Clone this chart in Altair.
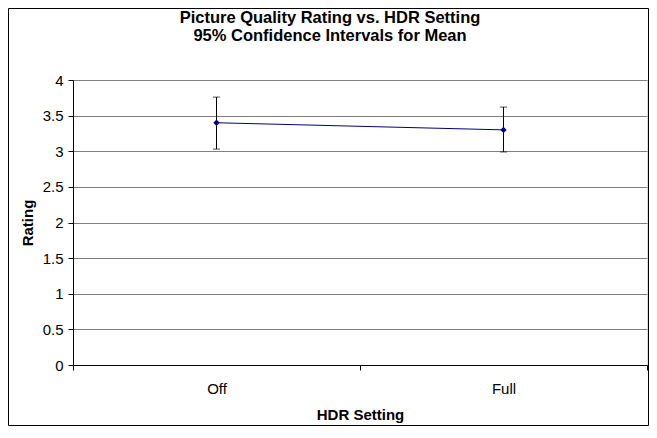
import altair as alt
import pandas as pd

categories = ["Off", "Full"]
means = [3.40, 3.30]
lower = [3.03, 2.99]
upper = [3.76, 3.62]
y_ticks = [0, 0.5, 1, 1.5, 2, 2.5, 3, 3.5, 4]

df = pd.DataFrame({"HDR": categories, "mean": means, "lo": lower, "hi": upper})

FONT = "Liberation Sans"
W, H = 574, 285

xenc = alt.X(
    "HDR:N",
    sort=categories,
    scale=alt.Scale(type="band", paddingInner=0, paddingOuter=0),
    axis=alt.Axis(
        title="HDR Setting",
        labelAngle=0,
        tickBand="extent",
        grid=False,
        tickSize=5,
        tickColor="black",
        domainColor="black",
        labelColor="black",
        labelFont=FONT,
        labelFontSize=15,
        labelBaseline="alphabetic",
        labelPadding=23,
        titleFont=FONT,
        titleFontSize=15,
        titleFontWeight="bold",
        titleColor="black",
        titleX=W / 2,
        titleY=54,
        titleBaseline="alphabetic",
        titleAlign="center",
    ),
)

yaxis = alt.Axis(
    title="Rating",
    values=y_ticks,
    format="~g",
    grid=True,
    gridColor="#808080",
    gridWidth=1,
    tickSize=5,
    tickColor="black",
    domainColor="black",
    labelColor="black",
    labelFont=FONT,
    labelFontSize=15,
    labelPadding=5,
    titleFont=FONT,
    titleFontSize=15,
    titleFontWeight="bold",
    titleColor="black",
    titleAngle=-90,
    titleX=-45.5,
    titleY=H / 2,
    titleAlign="center",
    titleBaseline="middle",
)

yscale = alt.Scale(domain=[0, 4], nice=False)


def Y(field):
    return alt.Y(field, scale=yscale, axis=yaxis, title="Rating")


base = alt.Chart(df)

line = base.mark_line(color="#000080", strokeWidth=1).encode(
    x=xenc,
    y=Y("mean:Q"),
)

rules = base.mark_rule(color="black", strokeWidth=1).encode(
    x=xenc,
    y=Y("lo:Q"),
    y2="hi:Q",
)

cap_lo = base.mark_tick(color="black", orient="horizontal", size=7, thickness=1).encode(
    x=xenc,
    y=Y("lo:Q"),
)
cap_hi = base.mark_tick(color="black", orient="horizontal", size=7, thickness=1).encode(
    x=xenc,
    y=Y("hi:Q"),
)

points = base.mark_point(shape="diamond", filled=True, color="#000080", size=40, opacity=1).encode(
    x=xenc,
    y=Y("mean:Q"),
)

border = alt.Chart(pd.DataFrame({"a": [0]})).mark_rect(
    filled=False, stroke="black", strokeWidth=1
).encode(
    x=alt.value(-64.5),
    x2=alt.value(W + 1.5),
    y=alt.value(-71.5),
    y2=alt.value(H + 60.5),
)

chart = (
    alt.layer(line, rules, cap_lo, cap_hi, points, border)
    .properties(
        width=W,
        height=H,
        title=alt.TitleParams(
            text=["Picture Quality Rating vs. HDR Setting", "95% Confidence Intervals for Mean"],
            font=FONT,
            fontSize=16.5,
            fontWeight="bold",
            color="black",
            anchor="middle",
            frame="group",
            dx=-30,
            offset=-36.5,
            lineHeight=18,
        ),
        autosize=alt.AutoSizeParams(type="none"),
        padding={"left": 65, "right": 2, "top": 72, "bottom": 61},
    )
    .configure_view(stroke="#808080", strokeWidth=1)
    .configure(background="white")
)

chart.save("out.html", embed_options={"renderer": "svg", "actions": False})
